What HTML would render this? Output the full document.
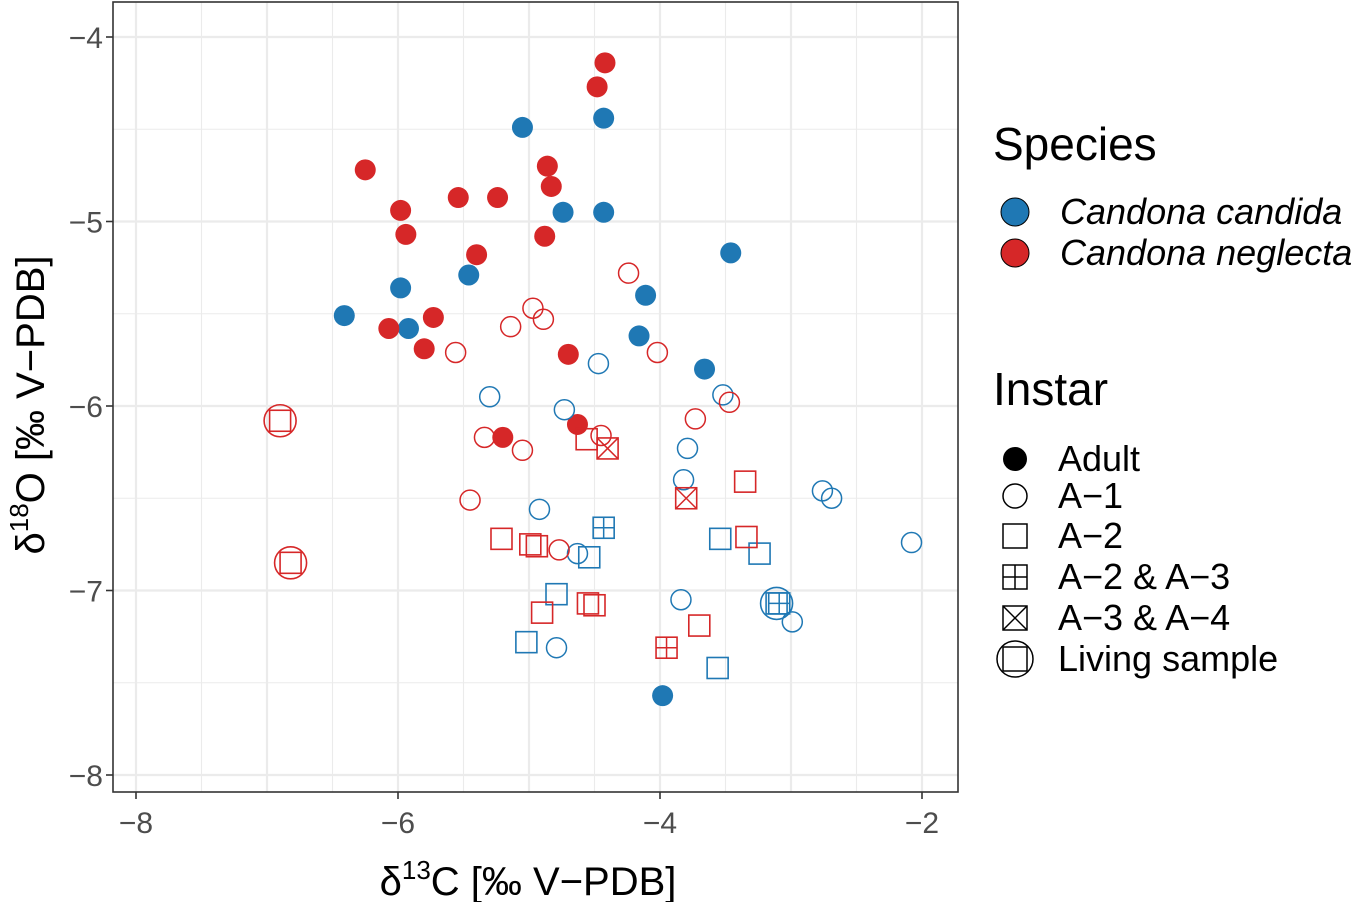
<!DOCTYPE html>
<html><head><meta charset="utf-8"><style>
body{margin:0;background:#fff;}
svg{display:block;font-family:"Liberation Sans",sans-serif;}
</style></head><body>
<svg id="chart" width="1364" height="902"></svg>
<script>
const xTicks=[-8,-6,-4,-2];
const yTicks=[-4,-5,-6,-7,-8];
const ptX=[-5.05,-4.43,-4.74,-4.43,-3.46,-5.46,-5.98,-6.41,-5.92,-4.11,-4.16,-3.66,-3.98,
-4.42,-4.48,-6.25,-4.86,-4.83,-5.54,-5.24,-5.98,-5.94,-4.88,-5.40,-6.07,-5.73,-5.80,-4.70,-4.63,-5.20,
-4.47,-5.30,-4.73,-3.52,-3.79,-3.82,-2.76,-2.69,-2.08,-4.92,-4.63,-3.84,-4.79,-2.99,
-4.24,-4.97,-4.89,-5.14,-5.56,-4.02,-3.73,-3.47,-5.34,-5.05,-4.45,-5.45,-4.77,
-3.54,-3.24,-4.54,-4.79,-5.02,-3.56,
-4.56,-3.35,-3.34,-5.21,-4.99,-4.94,-4.90,-4.55,-4.50,-3.70,
-4.43,-3.09,-3.95,-4.40,-3.80,
-3.11,-6.90,-6.82];
const ptY=[-4.49,-4.44,-4.95,-4.95,-5.17,-5.29,-5.36,-5.51,-5.58,-5.40,-5.62,-5.80,-7.57,
-4.14,-4.27,-4.72,-4.70,-4.81,-4.87,-4.87,-4.94,-5.07,-5.08,-5.18,-5.58,-5.52,-5.69,-5.72,-6.10,-6.17,
-5.77,-5.95,-6.02,-5.94,-6.23,-6.40,-6.46,-6.50,-6.74,-6.56,-6.80,-7.05,-7.31,-7.17,
-5.28,-5.47,-5.53,-5.57,-5.71,-5.71,-6.07,-5.98,-6.17,-6.24,-6.16,-6.51,-6.78,
-6.72,-6.80,-6.82,-7.02,-7.28,-7.42,
-6.18,-6.41,-6.71,-6.72,-6.75,-6.76,-7.12,-7.07,-7.08,-7.19,
-6.66,-7.07,-7.31,-6.23,-6.50,
-7.07,-6.08,-6.85];
const ptSp=[0,0,0,0,0,0,0,0,0,0,0,0,0,
1,1,1,1,1,1,1,1,1,1,1,1,1,1,1,1,1,
0,0,0,0,0,0,0,0,0,0,0,0,0,0,
1,1,1,1,1,1,1,1,1,1,1,1,1,
0,0,0,0,0,0,
1,1,1,1,1,1,1,1,1,1,
0,0,1,1,1,
0,1,1];
const ptShape=["a","a","a","a","a","a","a","a","a","a","a","a","a",
"a","a","a","a","a","a","a","a","a","a","a","a","a","a","a","a","a",
"c","c","c","c","c","c","c","c","c","c","c","c","c","c",
"c","c","c","c","c","c","c","c","c","c","c","c","c",
"s","s","s","s","s","s",
"s","s","s","s","s","s","s","s","s","s",
"p","p","p","x","x",
"l","l","l"];
const colors=["#1f78b4","#d62728"];
const NS="http://www.w3.org/2000/svg";
const svg=document.getElementById('chart');
function sx(v){return 136+(v+8)*131;}
function sy(v){return 37+(-4-v)*184.5;}
function mk(tag,at,parent){const e=document.createElementNS(NS,tag);for(const k in at)e.setAttribute(k,at[k]);(parent||svg).appendChild(e);return e;}
const L=113,R=958,T=2,B=792;
for(let v=-8.5;v<=-1.5;v+=0.5){const x=sx(v);if(x<L||x>R)continue;const g=mk('line',{x1:x,x2:x,y1:T,y2:B,stroke:'#ebebeb','stroke-width':Number.isInteger(v)?2.2:1.1});}
for(let v=-8.5;v<=-3.5;v+=0.5){const y=sy(v);if(y<T||y>B)continue;const g=mk('line',{x1:L,x2:R,y1:y,y2:y,stroke:'#ebebeb','stroke-width':Number.isInteger(v)?2.2:1.1});}
function square(cx,cy,c,s,p){return mk('rect',{x:cx-s/2,y:cy-s/2,width:s,height:s,fill:'none',stroke:c,'stroke-width':1.6},p);}
function drawShape(p,shape,cx,cy,c){
  const h=10.5;
  if(shape==='a'){mk('circle',{cx:cx,cy:cy,r:10.5,fill:c},p);}
  else if(shape==='c'){mk('circle',{cx:cx,cy:cy,r:10,fill:'none',stroke:c,'stroke-width':1.5},p);}
  else if(shape==='s'){square(cx,cy,c,21,p);}
  else if(shape==='p'){square(cx,cy,c,21,p);mk('line',{x1:cx-h,x2:cx+h,y1:cy,y2:cy,stroke:c,'stroke-width':1.5},p);mk('line',{x1:cx,x2:cx,y1:cy-h,y2:cy+h,stroke:c,'stroke-width':1.5},p);}
  else if(shape==='x'){square(cx,cy,c,21,p);mk('line',{x1:cx-h,x2:cx+h,y1:cy-h,y2:cy+h,stroke:c,'stroke-width':1.5},p);mk('line',{x1:cx-h,x2:cx+h,y1:cy+h,y2:cy-h,stroke:c,'stroke-width':1.5},p);}
  else if(shape==='l'){mk('circle',{cx:cx,cy:cy,r:16,fill:'none',stroke:c,'stroke-width':1.6},p);square(cx,cy,c,21,p);}
}
for(let i=0;i<ptX.length;i++){
  const g=mk('g',{});
  
  
  drawShape(g,ptShape[i],sx(ptX[i]),sy(ptY[i]),colors[ptSp[i]]);
}
const bd=mk('rect',{x:L,y:T,width:R-L,height:B-T,fill:'none',stroke:'#333','stroke-width':1.6});

xTicks.forEach(v=>{const x=sx(v);mk('line',{x1:x,x2:x,y1:B,y2:B+7,stroke:'#333','stroke-width':1.6});
 const t=mk('text',{x:x,y:B+41,'text-anchor':'middle','font-size':30,fill:'#4d4d4d'});t.textContent=String(v).replace('-','\u2212');
 });
yTicks.forEach(v=>{const y=sy(v);mk('line',{x1:L-7,x2:L,y1:y,y2:y,stroke:'#333','stroke-width':1.6});
 const t=mk('text',{x:L-10,y:y+11,'text-anchor':'end','font-size':30,fill:'#4d4d4d'});t.textContent=String(v).replace('-','\u2212');
 });
</script>
<svg width="1364" height="902" style="position:absolute;left:0;top:0;font-family:'Liberation Sans',sans-serif">
<text x="528" y="895" text-anchor="middle" font-size="40">δ<tspan font-size="26" dy="-16">13</tspan><tspan dy="16">C [‰ V−PDB]</tspan></text>
<text transform="translate(44,405) rotate(-90)" text-anchor="middle" font-size="40">δ<tspan font-size="26" dy="-16">18</tspan><tspan dy="16">O [‰ V−PDB]</tspan></text>
<g>
<text x="993" y="160" font-size="46">Species</text>
<circle cx="1015" cy="212" r="14" fill="#1f78b4" stroke="#000" stroke-width="1"/>
<text x="1060" y="224" font-size="36" font-style="italic">Candona candida</text>
<circle cx="1015" cy="253" r="14" fill="#d62728" stroke="#000" stroke-width="1"/>
<text x="1060" y="265" font-size="36" font-style="italic">Candona neglecta</text>
<text x="993" y="405" font-size="46">Instar</text>
<circle cx="1015" cy="459" r="12" fill="#000"/>
<text x="1058" y="471" font-size="36">Adult</text>
<circle cx="1015" cy="496" r="12" fill="none" stroke="#000" stroke-width="1.5"/>
<text x="1058" y="508" font-size="36">A−1</text>
<rect x="1003" y="524" width="24" height="24" fill="none" stroke="#000" stroke-width="1.5"/>
<text x="1058" y="548" font-size="36">A−2</text>
<rect x="1003" y="565" width="24" height="24" fill="none" stroke="#000" stroke-width="1.5"/>
<line x1="1003" x2="1027" y1="577" y2="577" stroke="#000" stroke-width="1.5"/><line x1="1015" x2="1015" y1="565" y2="589" stroke="#000" stroke-width="1.5"/>
<text x="1058" y="589" font-size="36">A−2 &amp; A−3</text>
<rect x="1003" y="606" width="24" height="24" fill="none" stroke="#000" stroke-width="1.5"/>
<line x1="1003" x2="1027" y1="606" y2="630" stroke="#000" stroke-width="1.5"/><line x1="1003" x2="1027" y1="630" y2="606" stroke="#000" stroke-width="1.5"/>
<text x="1058" y="630" font-size="36">A−3 &amp; A−4</text>
<circle cx="1015" cy="659" r="18" fill="none" stroke="#000" stroke-width="1.5"/>
<rect x="1003" y="647" width="24" height="24" fill="none" stroke="#000" stroke-width="1.5"/>
<text x="1058" y="671" font-size="36">Living sample</text>
</g>
</svg>
</body></html>
